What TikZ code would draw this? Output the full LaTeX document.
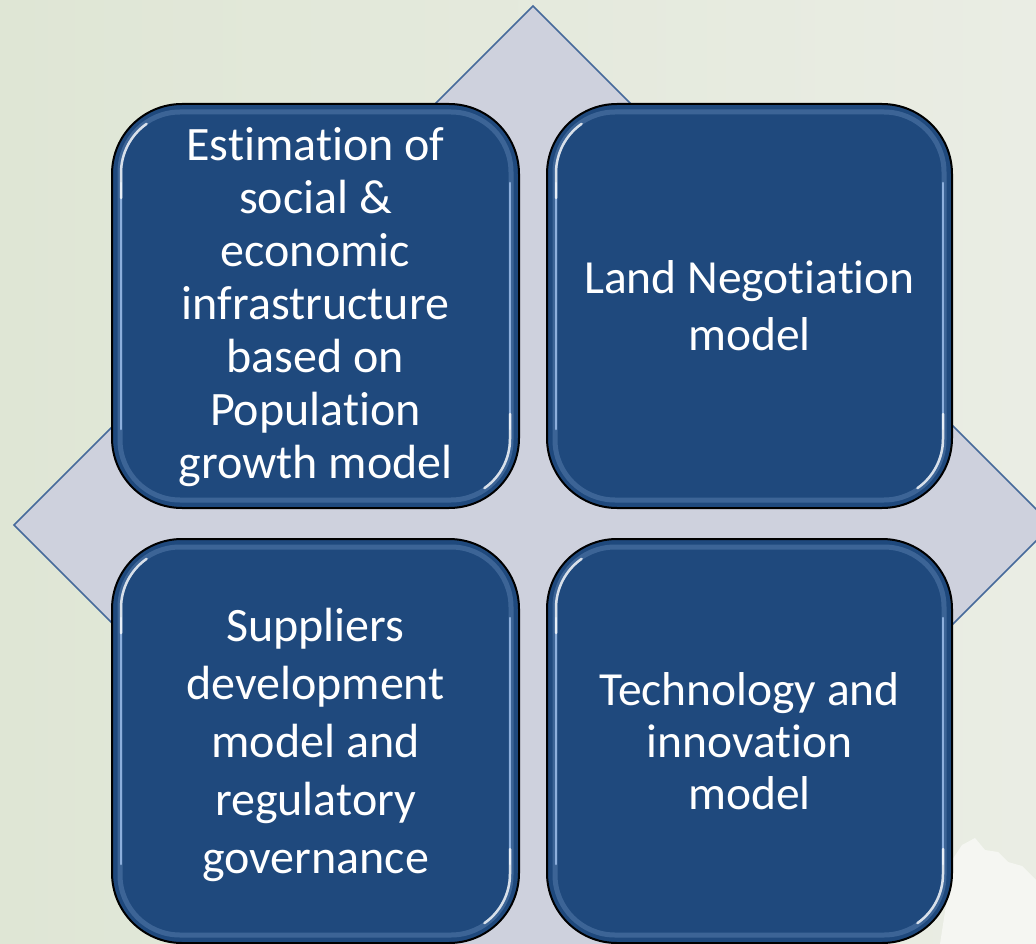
\documentclass[tikz,border=0pt]{standalone}
\usepackage{fontspec}
\setmainfont{Carlito}[Ligatures=NoCommon]
\usetikzlibrary{calc}
\definecolor{boxblue}{RGB}{31,73,125}
\definecolor{diafill}{RGB}{206,209,221}
\definecolor{diaedge}{RGB}{70,106,155}
\definecolor{bgA}{RGB}{234,237,228}
\definecolor{bgB}{RGB}{223,230,213}
\definecolor{gloss}{RGB}{150,184,228}
\newcommand\glossbox[1]{%
  \draw[gloss, line width=5pt, opacity=.25, rounded corners=60pt]
    ($(#1.north west)+(9,9)$) rectangle ($(#1.south east)+(-9,-9)$);
  \draw[gloss, line width=2.5pt, opacity=.9, line cap=round]
    ($(#1.north west)+(10,80)$) -- ($(#1.south west)+(10,-80)$);
  \draw[gloss, line width=2.5pt, opacity=.9, line cap=round]
    ($(#1.north east)+(-10,80)$) -- ($(#1.south east)+(-10,-80)$);
  \draw[white, line width=2.5pt, opacity=.8, line cap=round]
    ($(#1.north west)+(10,95)$) -- ($(#1.north west)+(10,70)$) arc[start angle=180, end angle=235, radius=60];
  \draw[white, line width=2.5pt, opacity=.8, line cap=round]
    ($(#1.south east)+(-10,-95)$) -- ($(#1.south east)+(-10,-70)$) arc[start angle=0, end angle=55, radius=60];
}
\begin{document}
\begin{tikzpicture}[x=1pt,y=-1pt,
  box/.style={draw=black, line width=2pt, fill=boxblue, rounded corners=70pt,
    minimum width=407pt, minimum height=404pt, inner sep=0pt},
  label/.style={text=white, align=center, inner sep=0pt}]
\useasboundingbox (0,0) rectangle (1036,944);
\shade[left color=bgB, right color=bgA] (0,0) rectangle (1036,944);
\clip (0,0) rectangle (1036,944);
% background snow patch
\fill[white, opacity=.55] (952,860) -- (962,845) -- (975,838) -- (985,850) -- (998,852) -- (1008,862) -- (1022,866) -- (1036,880) -- (1036,944) -- (940,944) -- (946,905) -- cycle;
% diamond
\draw[diaedge, fill=diafill, line width=1.6pt] (533,6) -- (1052,525) -- (533,1044) -- (14,525) -- cycle;
% boxes
\node[box] (tl) at (315.5,306) {};
\node[box, minimum width=405pt] (tr) at (749.5,306) {};
\node[box] (bl) at (315.5,741) {};
\node[box, minimum width=405pt] (br) at (749.5,741) {};
\glossbox{tl}\glossbox{tr}\glossbox{bl}\glossbox{br}
% labels
\node[label, font={\fontsize{48}{53}\selectfont}] (tlt) at (315.5,307) {Estimation of\\social \&\\economic\\infrastructure\\based on\\Population\\growth model};
\node[label, font={\fontsize{47.5}{57}\selectfont}] (trt) at (tr.center) {Land Negotiation\\model};
\node[label, font={\fontsize{48}{58}\selectfont}] (blt) at (315.5,745) {Suppliers\\development\\model and\\regulatory\\governance};
\node[label, font={\fontsize{47.5}{52}\selectfont}] (brt) at (br.center) {Technology and\\innovation\\model};
\end{tikzpicture}
\end{document}
